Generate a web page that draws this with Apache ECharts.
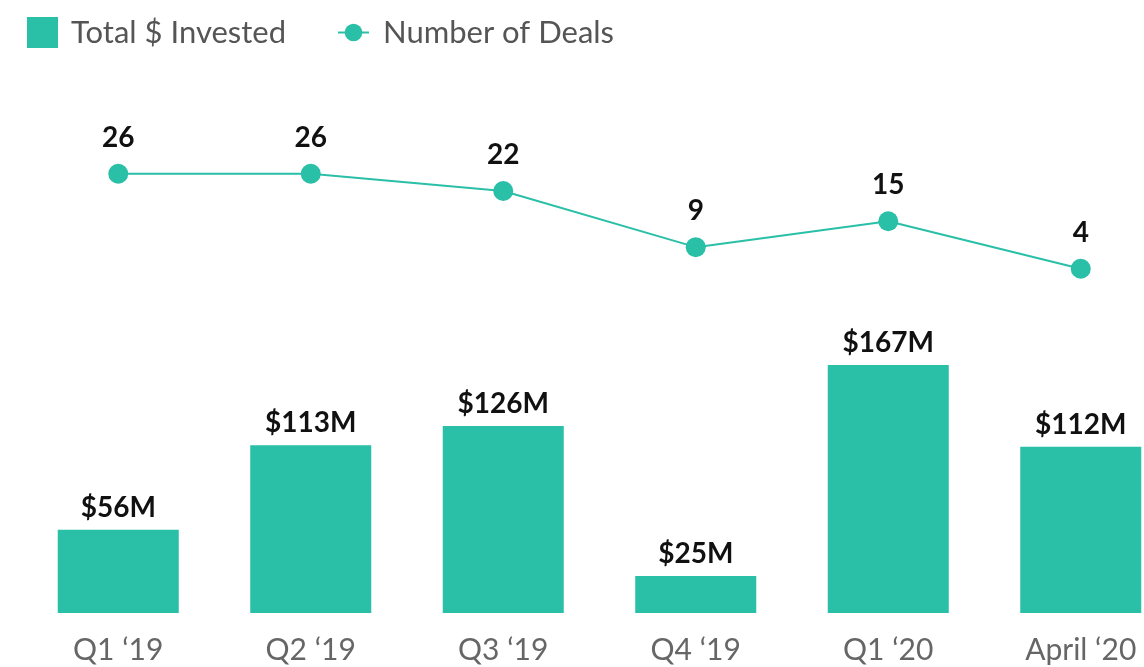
<!DOCTYPE html>
<html><head><meta charset="utf-8">
<script src="https://cdn.jsdelivr.net/npm/echarts@6/dist/echarts.min.js"></script>
<style>html,body{margin:0;padding:0;background:#fff}#c{width:1144px;height:667px}</style>
</head><body><div id="c"></div>
<script>
const categories = ['Q1 \u201819', 'Q2 \u201819', 'Q3 \u201819', 'Q4 \u201819', 'Q1 \u201820', 'April \u201820'];
const invested = [56, 113, 126, 25, 167, 112];
const deals = [26, 26, 22, 9, 15, 4];
const teal = '#2abfa7';
const font = 'Lato';
const chart = echarts.init(document.getElementById('c'));
chart.setOption({
  animation: false,
  textStyle: { fontFamily: font },
  legend: [
    { data: [{ name: 'Total $ Invested', icon: 'rect' }], left: 22, top: 12, itemWidth: 31, itemHeight: 31,
      textStyle: { fontSize: 31, color: '#555', fontFamily: font, padding: [0, 0, 0, 8] } },
    { data: ['Number of Deals'], left: 332, top: 12, itemWidth: 31, itemHeight: 22,
      textStyle: { fontSize: 31, color: '#555', fontFamily: font, padding: [0, 0, 0, 9] } }
  ],
  grid: { left: 22, top: 80, width: 1155, height: 533, outerBoundsMode: 'none', containLabel: false },
  xAxis: {
    type: 'category', data: categories, boundaryGap: true,
    axisLine: { show: false }, axisTick: { show: false },
    axisLabel: { fontSize: 30, color: '#666', margin: 22, fontFamily: font, interval: 0 }
  },
  yAxis: [
    { type: 'value', min: 0, max: 359, show: false, splitLine: { show: false } },
    { type: 'value', min: -75.7, max: 47.7, show: false, splitLine: { show: false } }
  ],
  series: [
    { name: 'Total $ Invested', type: 'bar', data: invested, yAxisIndex: 0,
      barWidth: 121, itemStyle: { color: teal },
      label: { show: true, position: 'top', distance: 8, formatter: '${c}M',
        fontSize: 28, fontWeight: 'bold', color: '#111', fontFamily: font } },
    { name: 'Number of Deals', type: 'line', data: deals, yAxisIndex: 1,
      symbol: 'circle', symbolSize: 20, lineStyle: { color: teal, width: 2 },
      itemStyle: { color: teal },
      label: { show: true, position: 'top', distance: 12,
        fontSize: 28, fontWeight: 'bold', color: '#111', fontFamily: font } }
  ]
});
</script></body></html>
